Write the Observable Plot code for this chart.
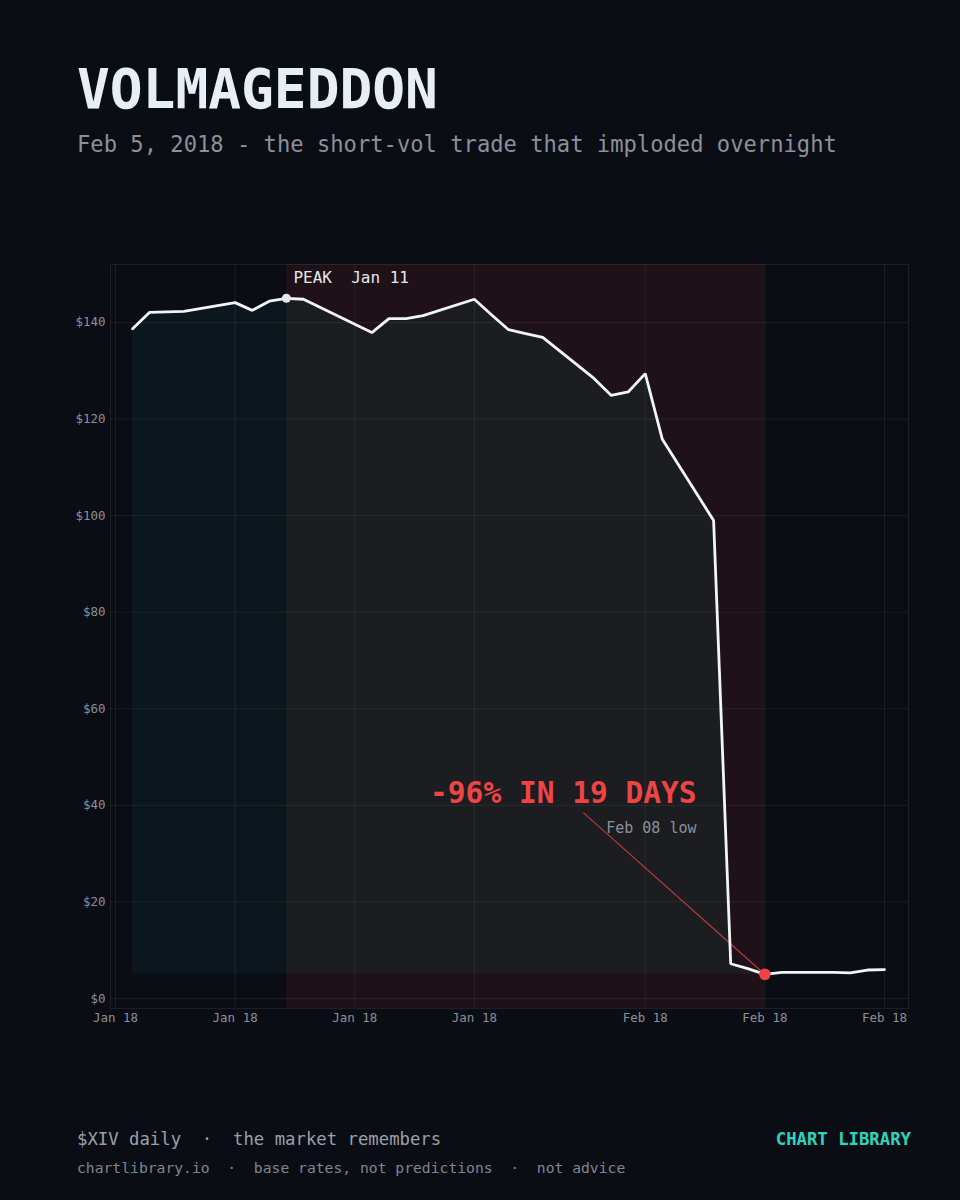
<!DOCTYPE html>
<html>
<head>
<meta charset="utf-8">
<script src="https://cdn.jsdelivr.net/npm/d3@7"></script>
<script src="https://cdn.jsdelivr.net/npm/@observablehq/plot@0.6"></script>
<style>
  html, body { margin: 0; padding: 0; background: #0a0d14; }
  #page { position: relative; width: 960px; height: 1200px; background: #0a0d14; overflow: hidden;
          font-family: "DejaVu Sans Mono", monospace; }
  .t { position: absolute; line-height: 1; white-space: pre; }
  #title { left: 77px; top: 62px; font-size: 54.5px; font-weight: bold; color: #e8eef5; }
  #subtitle { left: 77px; top: 133px; font-size: 22.15px; color: #8b9099; }
  #chart { position: absolute; left: 0; top: 230px; }
  #foot1 { left: 77px; top: 1131px; font-size: 17.3px; color: #9aa0a8; }
  #brand { right: 49px; top: 1131px; font-size: 17.3px; font-weight: bold; color: #2dd4bf; }
  #foot2 { left: 77px; top: 1161px; font-size: 14.7px; color: #80868f; }
  svg text { white-space: pre; }
</style>
</head>
<body>
<div id="page">
  <div class="t" id="title">VOLMAGEDDON</div>
  <div class="t" id="subtitle">Feb 5, 2018 - the short-vol trade that imploded overnight</div>
  <div id="chart"></div>
  <div class="t" id="foot1">$XIV daily  ·  the market remembers</div>
  <div class="t" id="brand">CHART LIBRARY</div>
  <div class="t" id="foot2">chartlibrary.io  ·  base rates, not predictions  ·  not advice</div>
</div>
<script>
// ---- data ----
const dates = [
  "2018-01-02","2018-01-03","2018-01-04","2018-01-05","2018-01-08","2018-01-09","2018-01-10",
  "2018-01-11","2018-01-12","2018-01-16","2018-01-17","2018-01-18","2018-01-19","2018-01-22",
  "2018-01-23","2018-01-24","2018-01-25","2018-01-26","2018-01-29","2018-01-30","2018-01-31",
  "2018-02-01","2018-02-02","2018-02-05","2018-02-06","2018-02-07","2018-02-08","2018-02-09",
  "2018-02-12","2018-02-13","2018-02-14","2018-02-15"
];
const closes = [
  138.7,142.1,142.2,142.3,144.1,142.5,144.4,
  145.0,144.8,137.9,140.8,140.8,141.4,144.8,
  141.6,138.5,137.7,136.9,128.4,124.9,125.6,
  129.4,115.8,99.0,7.2,6.2,5.0,5.4,
  5.4,5.3,5.9,6.0
];
const xTickDates = ["2018-01-01","2018-01-08","2018-01-15","2018-01-22","2018-02-01","2018-02-08","2018-02-15"];
const yTickValues = [0,20,40,60,80,100,120,140];
const xDomainDates = ["2018-01-01","2018-02-15"];
const yDomainValues = [0,152];
const headline = "-96% IN 19 DAYS";
const headlineAnchor = {date: "2018-02-04", value: 40};
const leaderStart = {date: "2018-01-28T09:00:00Z", value: 38.5};

// ---- derived ----
const data = dates.map((d, i) => ({date: new Date(d), value: closes[i]}));
const peakIdx = closes.indexOf(d3.max(closes));
const lowIdx = closes.indexOf(d3.min(closes));
const peak = data[peakIdx];
const low = data[lowIdx];
const pre = data.slice(0, peakIdx + 1);
const post = data.slice(peakIdx, lowIdx + 1);
const fmtDay = d3.utcFormat("%b %d");
const xTicks = xTickDates.map(d => new Date(d));
const ann = [{date: new Date(headlineAnchor.date), value: headlineAnchor.value}];
const leader = [{x1: new Date(leaderStart.date), y1: leaderStart.value, x2: low.date, y2: low.value}];
const peakLabel = "PEAK  " + d3.utcFormat("%b ")(peak.date) + (+d3.utcFormat("%d")(peak.date));
const lowLabel = fmtDay(low.date) + " low";

const grid = {stroke: "#ffffff", strokeOpacity: 0.065, strokeWidth: 1};

const chart = Plot.plot({
  width: 960,
  height: 820,
  marginTop: 34,
  marginBottom: 42,
  marginLeft: 110,
  marginRight: 52,
  style: {background: "transparent", color: "#8b9099", fontFamily: "DejaVu Sans Mono", fontSize: "12.5px"},
  x: {type: "utc", domain: xDomainDates.map(d => new Date(d)), insetLeft: 5, insetRight: 24},
  y: {domain: yDomainValues, insetBottom: 10},
  marks: [
    Plot.rect([0], {x1: () => peak.date, x2: () => low.date, fill: "#ef4444", fillOpacity: 0.09}),
    Plot.areaY(pre, {x: "date", y1: () => low.value, y2: "value", fill: "#2dd4bf", fillOpacity: 0.05}),
    Plot.areaY(post, {x: "date", y1: () => low.value, y2: "value", fill: "#1c1d21"}),
    Plot.gridX(xTicks, grid),
    Plot.gridY(yTickValues, grid),
    Plot.frame({stroke: "#ffffff", strokeOpacity: 0.08}),
    Plot.link(leader, {x1: "x1", y1: "y1", x2: "x2", y2: "y2", stroke: "#ef4444", strokeOpacity: 0.75, strokeWidth: 1.2}),
    Plot.line(data, {x: "date", y: "value", stroke: "#f1f5f9", strokeWidth: 2.8, strokeLinejoin: "miter"}),
    Plot.dot([peak], {x: "date", y: "value", r: 4.5, fill: "#e5e7eb"}),
    Plot.dot([low], {x: "date", y: "value", r: 5.8, fill: "#ef4444"}),
    Plot.text([peak], {x: "date", y: "value", text: () => peakLabel, textAnchor: "start", lineAnchor: "bottom",
      dx: 7, dy: -15, fill: "#e5e7eb", fontSize: 16}),
    Plot.text(ann, {x: "date", y: "value", text: () => headline, textAnchor: "end", lineAnchor: "bottom",
      dy: -2, fill: "#ef4444", fontSize: 29.5, fontWeight: "bold"}),
    Plot.text(ann, {x: "date", y: "value", text: () => lowLabel, textAnchor: "end", lineAnchor: "bottom",
      dy: 28, fill: "#8b9099", fontSize: 15}),
    Plot.axisX(xTicks, {tickFormat: d3.utcFormat("%b %y"), tickSize: 0, tickPadding: 5, fill: "#8b9099", fontSize: 12.5}),
    Plot.axisY(yTickValues, {tickFormat: d => "$" + d, tickSize: 0, tickPadding: 5, fill: "#8b9099", fontSize: 12.5})
  ]
});
document.getElementById("chart").appendChild(chart);
</script>
</body>
</html>
